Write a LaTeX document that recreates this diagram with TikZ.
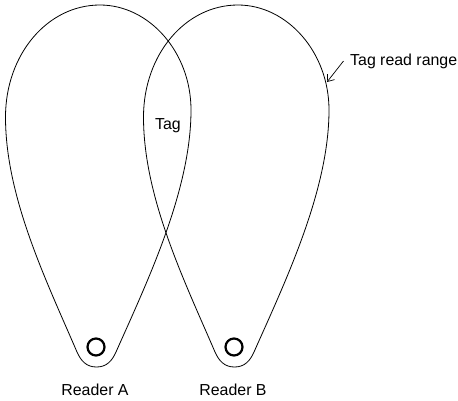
\documentclass[tikz,border=0pt]{standalone}
\usepackage{fontspec}
\setmainfont{Liberation Sans}
\usetikzlibrary{arrows.meta}
\tikzset{
  rangeline/.style={line width=0.8pt, black},
  reader/.style={circle, draw, line width=2.2pt, minimum size=17pt, inner sep=0pt},
  lbl/.style={font=\fontsize{15.9}{18}\selectfont, inner sep=0pt},
  callout/.style={line width=0.7pt, -{Straight Barb[length=6pt, width=9pt]}},
}
\begin{document}
\begin{tikzpicture}[x=1pt, y=-1pt]
\useasboundingbox (0,0) rectangle (458,400);
\fill[white] (0,0) rectangle (458,400);
\foreach \dx in {0,138}{
  \draw[rangeline, xshift=\dx pt] (96.5,367)
    .. controls (106.5,367) and (112,361) .. (116,352)
    .. controls (148,280) and (191,190) .. (191,110)
    .. controls (191,52) and (149,5) .. (100,5)
    .. controls (47,5) and (5.5,55) .. (5.5,117)
    .. controls (5.5,197) and (46,280) .. (77,352)
    .. controls (81,361) and (86.5,367) .. (96.5,367) -- cycle;
}
\node[reader] (ra) at (96,347) {};
\node[reader] (rb) at (234,347) {};
\node[lbl, anchor=base] (la) at (95,395) {Reader A};
\node[lbl, anchor=base] (lb) at (233,395) {Reader B};
\node[lbl, anchor=base] (tag) at (168,129) {Tag};
\node[lbl, anchor=base west] (trr) at (350,65) {Tag read range};
\coordinate (tail) at (343.5,61);
\coordinate (tip) at (327,82);
\draw[callout] (tail) -- (tip);
\end{tikzpicture}
\end{document}
